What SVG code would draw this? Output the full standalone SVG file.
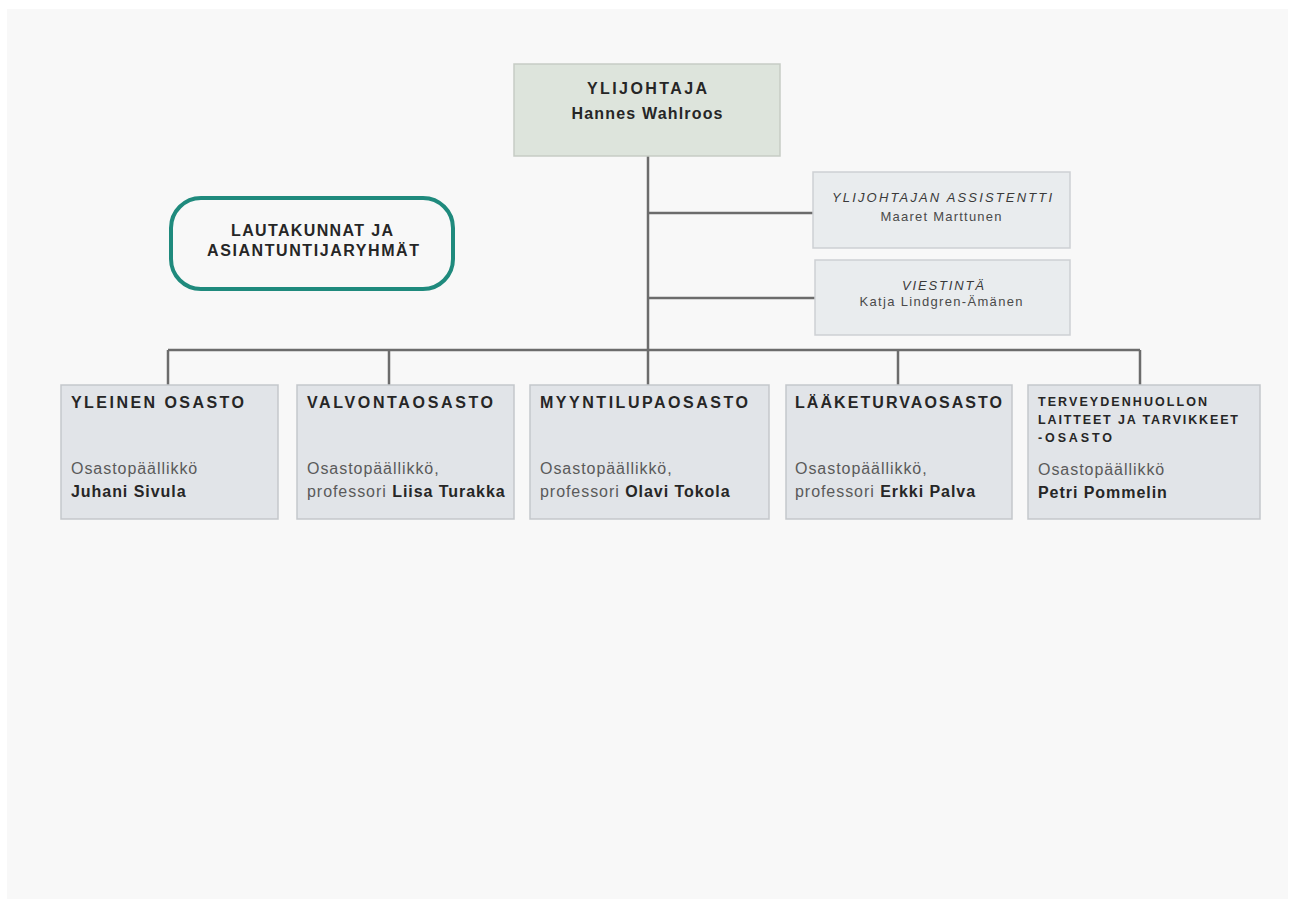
<svg xmlns="http://www.w3.org/2000/svg" width="1293" height="906" viewBox="0 0 1293 906">
<style>
text{font-family:"Liberation Sans",Arial,sans-serif;}
.b{font-weight:bold;fill:#262626;}
.t{font-size:16px;font-weight:bold;fill:#262626;}
.r{font-size:16px;fill:#5a5a5a;letter-spacing:0.95px;}
.n{font-weight:bold;fill:#262626;letter-spacing:0.95px;}
.dept{fill:#e1e4e8;stroke:#c4c7cb;stroke-width:1.5;}
.side{fill:#e9ecee;stroke:#cdd0d3;stroke-width:1.5;}
.ln{stroke:#6c6c6c;stroke-width:2.5;fill:none;}
.it{font-style:italic;fill:#3a3a3a;}
.sm{fill:#4a4a4a;}
</style>
<rect x="0" y="0" width="1293" height="906" fill="#ffffff"/>
<rect x="7" y="9" width="1281" height="890" fill="#f8f8f8"/>

<g id="connectors">
<path class="ln" d="M648 156 V385"/>
<path class="ln" d="M648 213 H813"/>
<path class="ln" d="M648 298 H815"/>
<path class="ln" d="M168 350 H1140"/>
<path class="ln" d="M168 350 V385"/>
<path class="ln" d="M389 350 V385"/>
<path class="ln" d="M898 350 V385"/>
<path class="ln" d="M1140 350 V385"/>
</g>

<g id="ylijohtaja">
<rect x="514" y="64" width="266" height="92" fill="#dde4dc" stroke="#c6ccc5" stroke-width="1.5"/>
<text class="t" x="647" y="94" text-anchor="middle" textLength="120" lengthAdjust="spacing">YLIJOHTAJA</text>
<text class="t" x="647" y="119" text-anchor="middle" textLength="151" lengthAdjust="spacing">Hannes Wahlroos</text>
</g>

<g id="assistentti">
<rect class="side" x="813" y="172" width="257" height="76"/>
<text class="it" x="942" y="201.5" font-size="13" text-anchor="middle" textLength="220" lengthAdjust="spacing">YLIJOHTAJAN ASSISTENTTI</text>
<text class="sm" x="941" y="221" font-size="13" text-anchor="middle" textLength="121" lengthAdjust="spacing">Maaret Marttunen</text>
</g>

<g id="viestinta">
<rect class="side" x="815" y="260" width="255" height="75"/>
<text class="it" x="943" y="289.5" font-size="13" text-anchor="middle" textLength="82" lengthAdjust="spacing">VIESTINTÄ</text>
<text class="sm" x="941" y="306" font-size="13" text-anchor="middle" textLength="163" lengthAdjust="spacing">Katja Lindgren-Ämänen</text>
</g>

<g id="lautakunnat">
<rect x="171" y="198" width="282" height="91" rx="30" ry="30" fill="#f8f8f8" stroke="#1f8a7d" stroke-width="4"/>
<text class="t" x="312" y="236" text-anchor="middle" textLength="162" lengthAdjust="spacing">LAUTAKUNNAT JA</text>
<text class="t" x="313" y="256" text-anchor="middle" textLength="212" lengthAdjust="spacing">ASIANTUNTIJARYHMÄT</text>
</g>

<g id="yleinen">
<rect class="dept" x="61" y="385" width="217" height="134"/>
<text class="t" x="71" y="408" textLength="173" lengthAdjust="spacing">YLEINEN OSASTO</text>
<text class="r" x="71" y="474">Osastopäällikkö</text>
<text class="n" x="71" y="497" font-size="16">Juhani Sivula</text>
</g>

<g id="valvonta">
<rect class="dept" x="297" y="385" width="217" height="134"/>
<text class="t" x="307" y="408" textLength="186" lengthAdjust="spacing">VALVONTAOSASTO</text>
<text class="r" x="307" y="474">Osastopäällikkö,</text>
<text class="r" x="307" y="497">professori <tspan class="n">Liisa Turakka</tspan></text>
</g>

<g id="myyntilupa">
<rect class="dept" x="530" y="385" width="239" height="134"/>
<text class="t" x="540" y="408" textLength="208" lengthAdjust="spacing">MYYNTILUPAOSASTO</text>
<text class="r" x="540" y="474">Osastopäällikkö,</text>
<text class="r" x="540" y="497">professori <tspan class="n">Olavi Tokola</tspan></text>
</g>

<g id="laaketurva">
<rect class="dept" x="786" y="385" width="226" height="134"/>
<text class="t" x="795" y="408" textLength="207" lengthAdjust="spacing">LÄÄKETURVAOSASTO</text>
<text class="r" x="795" y="474">Osastopäällikkö,</text>
<text class="r" x="795" y="497">professori <tspan class="n">Erkki Palva</tspan></text>
</g>

<g id="terveydenhuolto">
<rect class="dept" x="1028" y="385" width="232" height="134"/>
<text class="b" x="1038" y="406" font-size="12.5" textLength="169" lengthAdjust="spacing">TERVEYDENHUOLLON</text>
<text class="b" x="1038" y="424" font-size="12.5" textLength="200" lengthAdjust="spacing">LAITTEET JA TARVIKKEET</text>
<text class="b" x="1038" y="442" font-size="12.5" textLength="74" lengthAdjust="spacing">-OSASTO</text>
<text class="r" x="1038" y="475">Osastopäällikkö</text>
<text class="n" x="1038" y="498" font-size="16">Petri Pommelin</text>
</g>
</svg>
